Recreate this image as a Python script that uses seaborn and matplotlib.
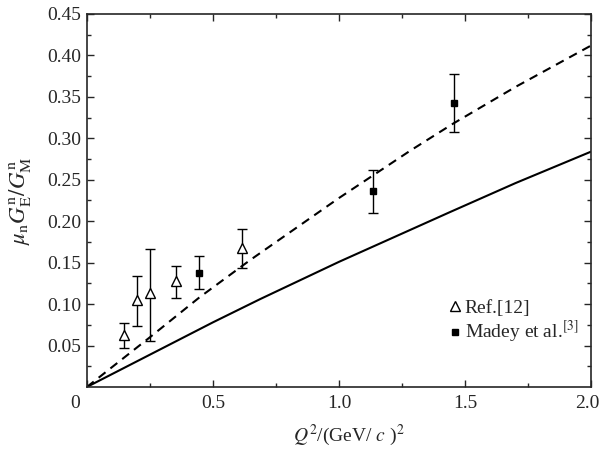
import numpy as np
import matplotlib.pyplot as plt
import matplotlib.transforms as mtransforms
import seaborn as sns

# Ref.[12] (open triangles)
ref_q2 = [0.148, 0.197, 0.250, 0.352, 0.614]
ref_val = [0.063, 0.105, 0.113, 0.128, 0.168]
ref_err_lo = [0.016, 0.032, 0.057, 0.021, 0.024]
ref_err_hi = [0.014, 0.029, 0.053, 0.018, 0.023]

# Madey et al. (filled squares)
madey_q2 = [0.446, 1.134, 1.454]
madey_val = [0.138, 0.236, 0.342]
madey_err = [0.020, 0.026, 0.035]

# theory curves
dash_q2 = [0.0, 0.25, 0.446, 0.647, 1.0, 1.282, 1.454, 1.7, 2.0]
dash_val = [0.0, 0.060, 0.108, 0.153, 0.228, 0.285, 0.318, 0.362, 0.412]
solid_q2 = [0.0, 0.25, 0.5, 0.687, 1.0, 1.44, 1.7, 2.0]
solid_val = [0.0, 0.039, 0.078, 0.106, 0.151, 0.211, 0.246, 0.284]

sns.set_style("ticks")
plt.rcParams["font.family"] = ["Liberation Serif", "DejaVu Serif"]
plt.rcParams["mathtext.fontset"] = "stix"

fig = plt.figure(figsize=(5.99, 4.5), dpi=100)
ax = fig.add_axes([0.145, 0.14, 0.842, 0.829])

sns.lineplot(x=dash_q2, y=dash_val, ax=ax, color="black", lw=1.5,
             linestyle=(0, (4.2, 3)))
sns.lineplot(x=solid_q2, y=solid_val, ax=ax, color="black", lw=1.5)

ax.errorbar(ref_q2, ref_val, yerr=[ref_err_lo, ref_err_hi], fmt="none",
            ecolor="black", elinewidth=1, capsize=3.5, capthick=1)
ax.errorbar(madey_q2, madey_val, yerr=madey_err, fmt="none",
            ecolor="black", elinewidth=1, capsize=3.5, capthick=1)
ax.plot(ref_q2, ref_val, ls="none", marker="^", ms=7.5, mfc="white",
        mec="black", mew=1, label="Ref.[12]", zorder=5)
ax.plot(madey_q2, madey_val, ls="none", marker="s", ms=5, mfc="black",
        mec="black", label=r"Madey et al.$^{[3]}$", zorder=5)

ax.set_xlim(0, 2.0)
ax.set_ylim(0, 0.45)
ax.set_xticks([0, 0.5, 1.0, 1.5, 2.0])
ax.set_xticklabels(["0", "0.5", "1.0", "1.5", "2.0"])
ax.set_xticks(np.arange(0.25, 2.0, 0.5), minor=True)
yt = np.arange(0.05, 0.451, 0.05)
ax.set_yticks(yt)
ax.set_yticklabels([f"{v:.2f}" for v in yt])
ax.set_yticks(np.arange(0.025, 0.45, 0.05), minor=True)
ax.tick_params(which="both", direction="in", top=True, right=True,
               labelsize=14, width=1)
ax.tick_params(which="major", length=5)
ax.tick_params(which="minor", length=3)
ax.tick_params(axis="x", pad=6)
ax.tick_params(axis="y", pad=4)
for s in ax.spines.values():
    s.set_linewidth(1.2)

# nudge the corner labels like the original
xlabels = ax.get_xticklabels()
xlabels[0].set_transform(xlabels[0].get_transform() +
                         mtransforms.ScaledTranslation(-12 / 100, 0, fig.dpi_scale_trans))
xlabels[-1].set_transform(xlabels[-1].get_transform() +
                          mtransforms.ScaledTranslation(-4 / 100, 0, fig.dpi_scale_trans))

ax.set_xlabel(r"$Q^2$/(GeV/ $c$ )$^2$", fontsize=14, va="center")
ax.set_ylabel(r"$\mu_{\rm n}G_{\rm E}^{\rm n}/G_{\rm M}^{\rm n}$", fontsize=16.5,
              va="center")
ax.xaxis.set_label_coords(0.52, -0.13)
ax.yaxis.set_label_coords(-0.133, 0.5)

ax.legend(loc="upper left", bbox_to_anchor=(0.718, 0.235), frameon=False,
          fontsize=14, handlelength=0.6, handletextpad=0.2, labelspacing=0.12,
          borderpad=0, borderaxespad=0)

fig.savefig("out.png", dpi=100)
